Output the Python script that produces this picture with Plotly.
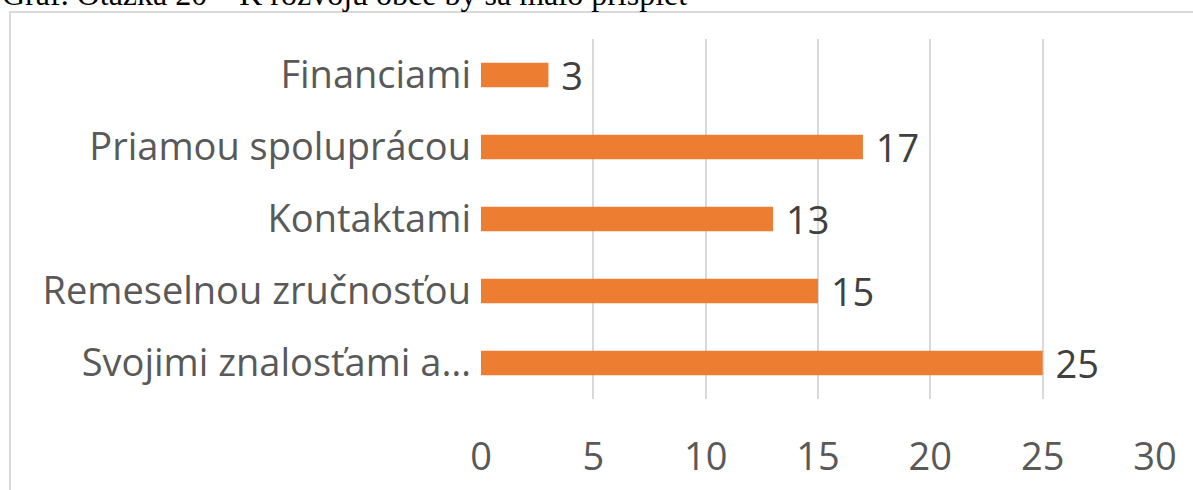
import plotly.graph_objects as go

categories = ["Svojimi znalosťami a…", "Remeselnou zručnosťou", "Kontaktami", "Priamou spoluprácou", "Financiami"]
values = [25, 15, 13, 17, 3]
x_ticks = [0, 5, 10, 15, 20, 25, 30]
title_text = "Graf. Otázka 20 – K rozvoju obce by sa malo prispieť"

W, H = 1193, 490
ml, mr, mt, mb = 481, 38, 39, 91
pw, ph = W - ml - mr, H - mt - mb
FONT = "Open Sans"
FS = 38

fig = go.Figure(go.Bar(
    y=categories, x=values, orientation="h",
    marker=dict(color="#ED7D31", line=dict(width=0)),
    text=[str(v) for v in values], texttemplate="\u00a0%{text}", textposition="outside",
    constraintext="none",
    textfont=dict(family=FONT, size=FS, color="#404040"),
    cliponaxis=False, width=0.34,
))

fig.update_layout(
    width=W, height=H,
    margin=dict(l=ml, r=mr, t=mt, b=mb, autoexpand=False),
    paper_bgcolor="white", plot_bgcolor="white",
    showlegend=False,
    xaxis=dict(range=[0, 30], tickvals=x_ticks, showgrid=True, gridcolor="#D9D9D9", gridwidth=2,
               zeroline=False, showline=False, ticks="",
               tickfont=dict(family=FONT, size=FS, color="#595959"),
               ticklabelstandoff=32, automargin=False),
    yaxis=dict(range=[-0.5, 4.5], showgrid=False, zeroline=False, showline=False, ticks="",
               tickfont=dict(family=FONT, size=FS, color="#595959"),
               ticklabelstandoff=9, automargin=False),
    shapes=[dict(type="rect", xref="paper", yref="paper",
                 x0=(10 - ml) / pw, x1=2, y0=-2, y1=(H - mb - 12) / ph,
                 line=dict(color="#D9D9D9", width=2), fillcolor="rgba(0,0,0,0)", layer="below")],
    annotations=[dict(text=title_text, xref="paper", yref="paper",
                      x=(0 - ml) / pw, y=(H - mb + 6) / ph, xanchor="left", yanchor="middle",
                      showarrow=False, font=dict(family="Liberation Serif", size=32, color="black"))],
)

fig.write_html("out.html", config={"displayModeBar": False},
               post_script="document.body.style.margin='0px';document.body.style.overflow='hidden';")
